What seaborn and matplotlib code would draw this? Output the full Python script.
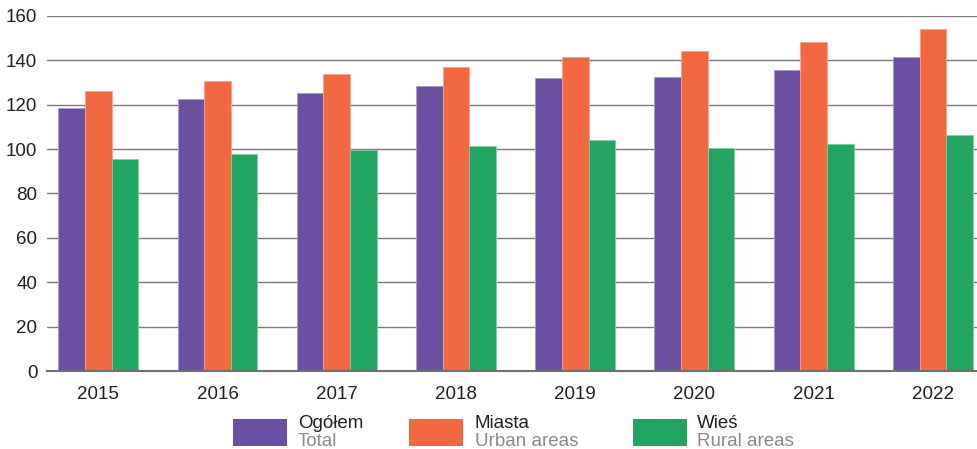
import matplotlib
matplotlib.use("Agg")
import matplotlib.pyplot as plt
from matplotlib.patches import Rectangle
import seaborn as sns
import pandas as pd

years = ["2015", "2016", "2017", "2018", "2019", "2020", "2021", "2022"]
total = [118.5, 122.4, 125.1, 128.4, 131.9, 132.3, 135.6, 141.4]
urban = [126.0, 130.5, 133.8, 137.0, 141.4, 144.1, 148.1, 154.3]
rural = [95.5, 97.9, 99.6, 101.4, 104.1, 100.6, 102.3, 106.4]
series_pl = ["Ogółem", "Miasta", "Wieś"]
series_en = ["Total", "Urban areas", "Rural areas"]
colors = ["#6B4FA0", "#F26841", "#22A463"]
edges = ["#A898C8", "#F9A58C", "#7FD0A4"]

rows = []
for name, vals in zip(series_pl, [total, urban, rural]):
    for y, v in zip(years, vals):
        rows.append({"year": y, "series": name, "value": v})
df = pd.DataFrame(rows)

sns.set_theme(style="white")
plt.rcParams["font.family"] = ["Liberation Sans", "DejaVu Sans"]

fig = plt.figure(figsize=(9.77, 4.49), dpi=100)
ax = fig.add_axes([47 / 977, 1 - 371 / 449, 930 / 977, 355 / 449])

sns.barplot(data=df, x="year", y="value", hue="series", order=years,
            hue_order=series_pl, palette=colors, width=0.67, gap=0,
            saturation=1, ax=ax, legend=False, zorder=3)
for i, cont in enumerate(ax.containers):
    for p in cont:
        p.set_edgecolor(edges[i])
        p.set_linewidth(0.6)

ax.set_ylim(0, 160)
ax.set_xlim(-0.43, 7.37)
ax.set_yticks(range(0, 161, 20))
ax.yaxis.grid(True, color="#7a7a7a", linewidth=1.0, zorder=0)
ax.set_axisbelow(True)
for s in ["left", "right", "top"]:
    ax.spines[s].set_visible(False)
ax.spines["bottom"].set_color("#707070")
ax.spines["bottom"].set_linewidth(1.5)
ax.spines["bottom"].set_zorder(5)
ax.set_xlabel("")
ax.set_ylabel("")
ax.tick_params(axis="both", length=0, labelsize=13.5, colors="#231f20")
ax.tick_params(axis="y", pad=7)
ax.tick_params(axis="x", pad=11)

# legend
W, H = 977, 449
leg = [(233, 298), (409, 475), (633, 697)]
for (px, tx), c, pl, en in zip(leg, colors, series_pl, series_en):
    fig.add_artist(Rectangle((px / W, 1 - 446 / H), 54 / W, 27 / H,
                             transform=fig.transFigure, facecolor=c,
                             edgecolor="none"))
    fig.text(tx / W, 1 - 424 / H, pl, fontsize=13.5, color="#231f20",
             va="center", ha="left")
    fig.text(tx / W, 1 - 441 / H, en, fontsize=13.5, color="#8a8a8a",
             va="center", ha="left")

fig.savefig("out.png", dpi=100)
